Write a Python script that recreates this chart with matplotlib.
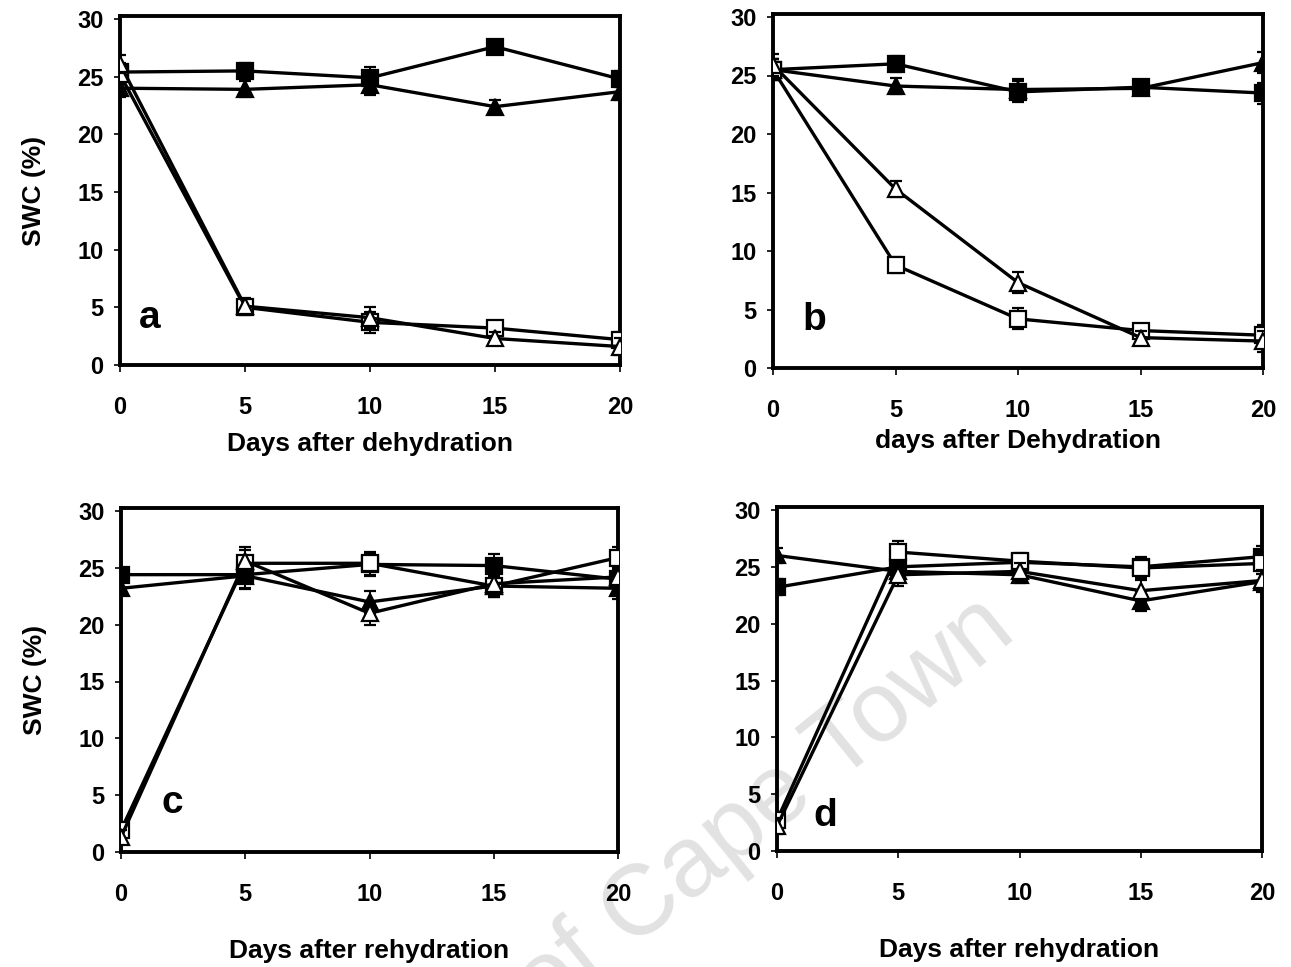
import matplotlib
matplotlib.use("Agg")
import matplotlib.pyplot as plt

plt.rcParams["font.family"] = ["Liberation Sans", "DejaVu Sans"]
plt.rcParams["font.weight"] = "bold"

days = [0, 5, 10, 15, 20]

# soil water content (%) per panel; "fs" filled square, "ft" filled triangle,
# "os" open square, "ot" open triangle
a_fs = [25.4, 25.5, 24.9, 27.6, 24.8]
a_ft = [24.0, 23.9, 24.3, 22.4, 23.7]
a_os = [25.2, 5.0, 3.7, 3.2, 2.2]
a_ot = [26.1, 5.1, 4.1, 2.3, 1.6]
a_err = [0.8, 0.7, 0.9, 0.6, 0.7]

b_fs = [25.5, 26.0, 23.6, 24.0, 23.5]
b_ft = [25.5, 24.1, 23.8, 23.9, 26.1]
b_os = [25.5, 8.8, 4.2, 3.2, 2.8]
b_ot = [25.9, 15.3, 7.3, 2.6, 2.3]
b_err = [0.9, 0.7, 0.9, 0.6, 0.9]

c_fs = [24.4, 24.4, 25.3, 25.2, 24.0]
c_ft = [23.2, 24.3, 22.0, 23.4, 23.2]
c_os = [1.9, 25.4, 25.4, 23.4, 25.9]
c_ot = [1.3, 25.6, 21.0, 23.6, 24.2]
c_err = [0.6, 1.2, 1.0, 1.0, 0.9]

d_fs = [23.2, 25.0, 25.4, 25.0, 25.9]
d_ft = [26.0, 24.6, 24.3, 22.0, 23.7]
d_os = [2.7, 26.3, 25.5, 24.9, 25.3]
d_ot = [2.2, 24.3, 24.6, 22.9, 23.8]
d_err = [0.7, 1.0, 0.7, 0.9, 0.9]

panels = [
    ("a", "Days after dehydration", True, a_fs, a_ft, a_os, a_ot, a_err),
    ("b", "days after Dehydration", False, b_fs, b_ft, b_os, b_ot, b_err),
    ("c", "Days after rehydration", True, c_fs, c_ft, c_os, c_ot, c_err),
    ("d", "Days after rehydration", False, d_fs, d_ft, d_os, d_ot, d_err),
]

W, H = 1291, 967
# axes boxes in pixels: left, right, y of zero, y of top frame
boxes = [(120, 620, 365, 16), (773, 1263, 368, 14), (121, 618, 852, 508), (777, 1262, 851, 507)]
letter_pos = [(1.2, 4.1), (1.7, 4.1), (2.05, 4.3), (2.0, 3.1)]
xlabel_pad = [10, 5, 24, 24]

fig = plt.figure(figsize=(W / 100, H / 100), dpi=100)

# faint diagonal watermark, kept behind the panels
fig.text(972 / W, 1 - 580 / H, "University of Cape Town", fontsize=72, color="#e2e2e2",
         fontweight="normal", rotation=39, rotation_mode="anchor", ha="right", va="top",
         zorder=-5)

for i, (lab, xlab, ylab, fs, ft, os_, ot, err) in enumerate(panels):
    l, r, y0, yt = boxes[i]
    ax = fig.add_axes([l / W, 1 - y0 / H, (r - l) / W, (y0 - yt) / H])
    ax.set_facecolor("none")
    ytop = 30 * (y0 - yt) / (y0 - (yt + 3))
    style = dict(color="black", lw=2.4, ms=11, mec="black", mew=1.6,
                 elinewidth=1.4, capsize=4, capthick=1.4, ecolor="black")
    ax.errorbar(days, fs, yerr=err, marker="s", mfc="black", zorder=3, **style)
    ax.errorbar(days, ft, yerr=err, marker="^", mfc="black", zorder=3, **style)
    ax.errorbar(days, os_, yerr=err, marker="s", mfc="white", zorder=4, **style)
    ax.errorbar(days, ot, yerr=err, marker="^", mfc="white", zorder=5, **style)

    ax.set_xlim(0, 20)
    ax.set_ylim(0, ytop)
    ax.set_xticks(days)
    ax.set_yticks(range(0, 31, 5))
    for s in ax.spines.values():
        s.set_linewidth(2.8)
    ax.tick_params(axis="x", direction="out", length=5, width=1.2, pad=17, labelsize=17)
    ax.tick_params(axis="y", direction="out", length=4, width=1.2, pad=8, labelsize=17)
    for t in ax.get_xticklabels() + ax.get_yticklabels():
        t.set_fontweight("bold")
    ax.set_xlabel(xlab, fontsize=19, fontweight="bold", labelpad=xlabel_pad[i])
    if ylab:
        ax.set_ylabel("SWC (%)", fontsize=19, fontweight="bold", labelpad=22)
    ax.text(*letter_pos[i], lab, fontsize=28, fontweight="bold", ha="center", va="center")

fig.savefig("out.png", dpi=100)
